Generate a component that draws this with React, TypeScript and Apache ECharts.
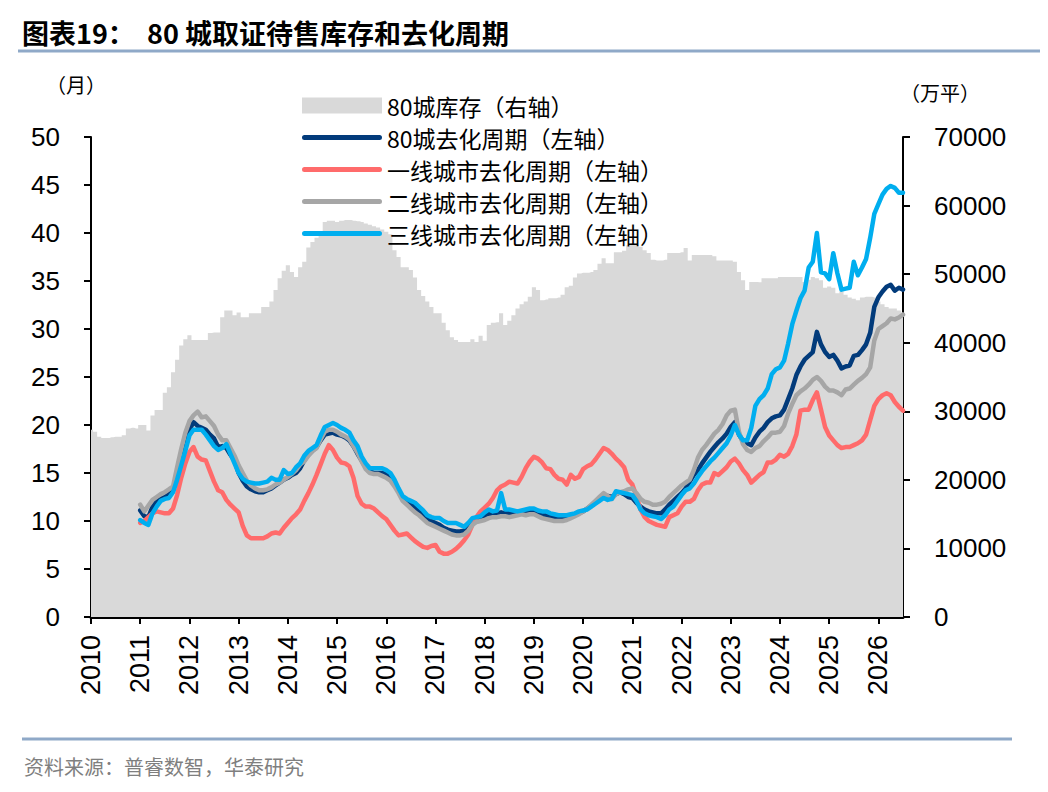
import React, { useEffect, useRef } from "react";
import * as echarts from "echarts";

// ---------- categories ----------
const years = [2010, 2011, 2012, 2013, 2014, 2015, 2016, 2017, 2018, 2019, 2020, 2021, 2022, 2023, 2024, 2025, 2026];
const monthsInLastYear = 7;
const months: string[] = [];
years.forEach((y, k) => {
  const n = k === years.length - 1 ? monthsInLastYear : 12;
  for (let m = 1; m <= n; m++) months.push(`${y}-${m < 10 ? "0" + m : m}`);
});

// ---------- series (monthly) ----------
// 80城库存（万平，右轴）, 2010-01 .. 2026-07
const inventory = [
  27300, 27000, 26300, 26100, 26100, 26200, 26300, 26300, 26500, 27500, 27600, 27500,
  28000, 28000, 27200, 29400, 30200, 30200, 32700, 33500, 35700, 37500, 39600, 40500,
  41100, 40400, 40400, 40400, 40400, 41400, 41500, 41500, 43700, 44700, 44700, 44000,
  44400, 43700, 43700, 44300, 44300, 44300, 45200, 45200, 46000, 47700, 49400, 50500,
  51300, 50300, 49600, 51000, 51800, 53900, 54700, 55300, 56000, 57600, 57800, 57800,
  57600, 57800, 57900, 57900, 57800, 57700, 57600, 57400, 57200, 57000, 56800, 56500,
  56200, 55800, 53500, 52500, 51000, 51000, 50600, 49500, 47700, 46800, 46000, 45200,
  44300, 44300, 42900, 41800, 40800, 40400, 40100, 40100, 40100, 40500, 40100, 41000,
  40300, 42600, 42900, 43000, 44300, 42600, 43200, 44000, 45000, 45600, 46000, 46700,
  48100, 47700, 46200, 46300, 46500, 46500, 46600, 47000, 48100, 48300, 49500, 50100,
  50200, 50200, 50300, 50600, 51500, 52300, 51600, 51600, 53200, 53200, 53400, 54200,
  54500, 54300, 54000, 53500, 53100, 52100, 52000, 52000, 52100, 53100, 53100, 53100,
  53200, 53800, 52000, 52800, 52800, 52800, 52800, 52800, 52600, 52000, 52000, 52000,
  52000, 51800, 50300, 49100, 47700, 48850, 48850, 48800, 49400, 49400, 49400, 49400,
  49600, 49600, 49600, 49600, 49600, 49600, 48850, 49200, 49600, 49400, 49100, 48000,
  48200, 48000, 47200, 47500, 47000, 46600, 46400, 46200, 46600, 46700, 46700, 46600,
  46000, 45600, 45200, 45000, 45000, 44700, 44400,
];

const pad2010 = [null, null, null, null, null, null, null, null, null, null, null, null];

// 80城去化周期（月，左轴）, 2011-01 .. 2026-07
const cycle80 = [
  11.1, 10.5, 10.4, 11.5, 12.0, 12.3, 12.5, 12.8, 13.2, 15.0, 16.5, 18.1,
  19.5, 20.3, 19.9, 19.7, 19.5, 19.0, 18.6, 17.7, 17.8, 17.6, 16.9, 16.3,
  15.0, 14.2, 13.6, 13.3, 13.1, 13.0, 13.0, 13.2, 13.4, 13.7, 14.0, 14.3,
  14.5, 14.8, 15.0, 15.5, 16.3, 16.9, 17.3, 17.7, 18.4, 19.0, 19.1, 19.2,
  19.0, 18.9, 18.7, 18.4, 17.8, 17.0, 16.3, 15.6, 15.2, 15.0, 15.0, 15.0,
  14.9, 14.6, 14.0, 13.2, 12.4, 12.1, 11.8, 11.4, 11.0, 10.6, 10.2, 10.0,
  9.8, 9.6, 9.3, 9.1, 9.0, 8.9, 8.9, 9.0, 9.3, 9.9, 10.2, 10.3,
  10.5, 10.7, 10.8, 10.8, 10.9, 10.8, 10.8, 10.9, 10.9, 11.0, 10.9, 11.0,
  11.0, 10.8, 10.7, 10.6, 10.5, 10.4, 10.4, 10.3, 10.4, 10.6, 10.7, 10.8,
  11.0, 11.3, 11.6, 11.9, 12.2, 12.5, 12.6, 12.5, 12.8, 13.0, 12.8, 12.5,
  12.4, 11.9, 11.5, 11.2, 11.0, 10.9, 10.8, 10.8, 11.2, 11.7, 12.1, 12.5,
  12.9, 13.4, 14.1, 14.8, 15.3, 16.0, 16.6, 17.2, 17.7, 18.2, 18.6, 19.1,
  19.8, 20.3, 19.0, 18.3, 18.1, 17.9, 18.7, 19.3, 19.7, 20.3, 20.7, 20.9,
  21.0, 21.6, 22.7, 23.8, 25.2, 26.1, 26.8, 27.2, 27.6, 29.7, 28.4, 27.6,
  27.1, 27.3, 26.7, 25.9, 26.1, 26.2, 27.2, 27.3, 27.8, 28.4, 29.6, 32.3,
  33.3, 33.9, 34.4, 34.6, 34.0, 34.3, 34.1,
];

// 一线城市去化周期
const cycleTier1 = [
  9.8, 10.0, 10.4, 10.8, 11.0, 10.9, 10.8, 10.8, 11.3, 12.7, 14.5, 16.0,
  17.2, 17.7, 16.7, 16.4, 16.3, 15.2, 14.1, 13.2, 13.0, 12.2, 11.7, 11.3,
  10.9, 9.5, 8.5, 8.2, 8.2, 8.2, 8.2, 8.4, 8.7, 8.8, 8.7, 9.3,
  9.8, 10.3, 10.7, 11.2, 12.1, 12.9, 13.8, 14.8, 15.9, 17.0, 17.9, 17.4,
  16.6, 16.1, 16.0, 15.7, 14.5, 12.6, 11.8, 11.5, 11.5, 11.3, 10.9, 10.5,
  10.2, 9.6, 9.0, 8.5, 8.6, 8.7, 8.3, 7.9, 7.6, 7.3, 7.2, 7.4,
  7.5, 6.8, 6.6, 6.6, 6.8, 7.1, 7.5, 8.0, 8.6, 9.6, 10.4, 11.0,
  11.4, 11.8, 12.4, 13.2, 13.6, 13.8, 14.1, 14.0, 13.9, 14.6, 15.5, 16.2,
  16.7, 16.5, 16.1, 15.5, 15.4, 14.8, 14.4, 14.3, 13.8, 14.8, 14.4, 14.6,
  15.4, 15.7, 15.9, 16.4, 17.0, 17.6, 17.4, 17.0, 16.5, 16.1, 15.6, 14.3,
  13.8, 12.6, 11.2, 10.4, 10.0, 9.8, 9.6, 9.5, 9.4, 10.4, 10.6, 10.8,
  11.5, 12.0, 12.0, 12.3, 13.2, 13.8, 14.0, 14.0, 15.0, 14.8, 15.2, 15.6,
  16.2, 16.5, 16.0, 15.3, 14.8, 14.0, 14.4, 14.8, 15.1, 16.1, 16.1, 16.4,
  16.9, 16.7, 17.0, 17.8, 19.0, 21.5, 21.6, 21.6, 22.6, 23.4, 21.6, 19.8,
  18.9, 18.4, 17.9, 17.6, 17.7, 17.7, 17.9, 18.1, 18.4, 19.0, 20.5, 22.0,
  22.7, 23.1, 23.3, 23.1, 22.4, 21.9, 21.5,
];

// 二线城市去化周期
const cycleTier2 = [
  11.7, 11.0, 11.6, 12.2, 12.5, 12.8, 13.0, 13.3, 13.6, 15.6, 17.5, 19.2,
  20.4, 21.0, 21.4, 20.8, 20.9, 20.4, 19.9, 19.0, 18.4, 18.4, 17.6, 16.8,
  15.8, 15.0, 14.2, 13.7, 13.4, 13.2, 13.2, 13.3, 13.5, 13.8, 14.0, 14.3,
  14.6, 14.9, 15.3, 15.9, 16.2, 16.8, 17.3, 17.6, 18.5, 19.3, 19.5, 19.5,
  19.3, 19.0, 18.8, 18.5, 17.8, 17.1, 16.2, 15.4, 15.0, 14.9, 14.9, 14.7,
  14.5, 14.2, 13.6, 12.9, 12.1, 11.7, 11.3, 10.9, 10.6, 10.2, 9.8, 9.6,
  9.4, 9.2, 9.0, 8.8, 8.6, 8.5, 8.5, 8.6, 9.0, 9.6, 9.9, 10.0,
  10.1, 10.3, 10.4, 10.4, 10.5, 10.5, 10.4, 10.5, 10.6, 10.7, 10.6, 10.7,
  10.7, 10.5, 10.3, 10.2, 10.1, 10.0, 10.0, 10.0, 10.1, 10.3, 10.5, 10.7,
  11.0, 11.3, 11.7, 12.1, 12.5, 12.9, 12.6, 12.3, 12.8, 13.0, 13.1, 13.3,
  13.4, 12.9, 12.3, 12.0, 11.9, 11.7, 11.7, 11.8, 12.0, 12.5, 12.9, 13.3,
  13.7, 14.0, 14.3, 15.3, 16.6, 17.4, 17.9, 18.5, 19.1, 19.5, 20.1, 21.0,
  21.5, 21.6, 19.3, 18.0, 17.4, 17.2, 17.6, 17.8, 18.3, 18.7, 19.2, 19.2,
  19.3, 19.9, 21.2, 22.2, 23.1, 23.5, 23.8, 24.2, 24.7, 25.0, 24.6, 24.0,
  23.6, 23.6, 23.4, 23.1, 23.7, 23.8, 24.2, 24.6, 24.9, 25.3, 26.0, 28.8,
  30.0, 30.3, 30.6, 31.1, 31.0, 31.2, 31.5,
];

// 三线城市去化周期
const cycleTier3 = [
  10.1, 9.8, 9.6, 10.8, 11.5, 12.1, 12.3, 12.4, 13.0, 14.3, 15.8, 17.3,
  18.9, 19.5, 19.5, 19.5, 19.0, 18.4, 17.8, 17.4, 17.6, 18.0, 17.0, 16.0,
  15.0, 14.4, 14.1, 14.0, 13.9, 13.9, 14.0, 14.1, 14.5, 14.3, 14.3, 15.3,
  14.9, 15.0, 15.6, 16.0, 16.8, 17.3, 17.6, 17.9, 18.9, 19.8, 20.0, 20.2,
  20.0, 19.7, 19.5, 19.2, 18.4, 17.8, 16.7, 16.0, 15.5, 15.5, 15.5, 15.5,
  15.3, 15.0, 14.3, 13.4, 12.6, 12.3, 12.1, 11.9, 11.5, 11.1, 10.6, 10.4,
  10.3, 10.3, 10.0, 9.8, 9.8, 9.8, 9.6, 9.4, 9.8, 10.3, 10.4, 10.5,
  10.9, 11.2, 11.0, 11.1, 12.9, 11.2, 11.2, 11.1, 11.0, 11.1, 11.2, 11.3,
  11.3, 11.1, 11.0, 11.0, 10.8, 10.7, 10.6, 10.6, 10.6, 10.7, 10.8, 11.0,
  11.1, 11.2, 11.5, 11.8, 12.1, 12.4, 12.2, 12.3, 13.1, 13.0, 12.9, 12.8,
  12.7, 12.1, 11.2, 10.8, 10.6, 10.5, 10.4, 10.2, 10.6, 11.2, 11.5, 12.1,
  12.7, 13.2, 13.4, 13.9, 14.6, 15.2, 15.7, 16.2, 16.6, 17.1, 17.6, 18.1,
  18.9, 20.0, 19.0, 18.4, 18.4, 19.7, 22.0, 22.7, 23.1, 23.8, 25.3, 25.8,
  26.0, 26.7, 28.5, 30.5, 31.9, 33.2, 34.0, 36.4, 37.0, 40.0, 35.9, 35.8,
  35.2, 37.9, 35.8, 34.1, 34.2, 34.3, 37.0, 35.6, 36.4, 37.3, 39.5, 42.0,
  43.0, 44.0, 44.6, 44.9, 44.7, 44.2, 44.2,
];

const leftTicks = { min: 0, max: 50, interval: 5 };
const rightTicks = { min: 0, max: 70000, interval: 10000 };

const NAMES = {
  inv: "80城库存（右轴）",
  c80: "80城去化周期（左轴）",
  t1: "一线城市去化周期（左轴）",
  t2: "二线城市去化周期（左轴）",
  t3: "三线城市去化周期（左轴）",
};

const COLORS = {
  inv: "#d9d9d9",
  c80: "#023b7b",
  t1: "#ff6b6b",
  t2: "#a6a6a6",
  t3: "#00aeef",
};

const NUM_FONT = "'Liberation Sans', Arial, 'Noto Sans CJK SC', sans-serif";
const CJK_FONT = "'Noto Sans CJK SC', 'Liberation Sans', sans-serif";
const LINE_ICON = "path://M2.5,0 L77.5,0 A2.5,2.5 0 0 1 77.5,5 L2.5,5 A2.5,2.5 0 0 1 2.5,0 Z";

function lineSeries(name: string, values: number[], color: string, z: number) {
  return {
    type: "line",
    name,
    yAxisIndex: 0,
    data: [...pad2010, ...values],
    symbol: "none",
    color,
    itemStyle: { color },
    lineStyle: { width: 4.5, color, cap: "round", join: "round" },
    z,
  };
}

export default function App() {
  const ref = useRef<HTMLDivElement>(null);

  useEffect(() => {
    if (!ref.current) return;
    const chart = echarts.init(ref.current, undefined, { renderer: "svg" });
    const yearOnly = (i: number) => i % 12 === 0;
    chart.setOption({
      animation: false,
      backgroundColor: "#ffffff",
      grid: { left: 91, right: 145, top: 137, bottom: 175, containLabel: false },
      legend: {
        orient: "vertical",
        left: 297,
        top: 89,
        itemWidth: 80,
        itemHeight: 16,
        itemGap: 9,
        selectedMode: false,
        textStyle: { fontSize: 23, lineHeight: 22, color: "#000", fontFamily: CJK_FONT },
        data: [
          { name: NAMES.inv, icon: "rect" },
          { name: NAMES.c80, icon: LINE_ICON },
          { name: NAMES.t1, icon: LINE_ICON },
          { name: NAMES.t2, icon: LINE_ICON },
          { name: NAMES.t3, icon: LINE_ICON },
        ],
      },
      xAxis: {
        type: "category",
        data: months,
        boundaryGap: false,
        axisLine: { show: true, lineStyle: { color: "#000", width: 3 } },
        axisTick: { show: true, interval: yearOnly, length: 7, lineStyle: { color: "#000", width: 2 } },
        axisLabel: {
          interval: yearOnly,
          formatter: (v: string) => v.slice(0, 4),
          rotate: 90,
          fontSize: 27,
          margin: 18,
          color: "#000",
          fontFamily: NUM_FONT,
        },
        splitLine: { show: false },
      },
      yAxis: [
        {
          type: "value",
          position: "left",
          ...leftTicks,
          axisLine: { show: true, lineStyle: { color: "#000", width: 2 } },
          axisTick: { show: true, length: 7, lineStyle: { color: "#000", width: 2 } },
          axisLabel: { fontSize: 26, margin: 31, color: "#000", fontFamily: NUM_FONT },
          splitLine: { show: false },
        },
        {
          type: "value",
          position: "right",
          ...rightTicks,
          axisLine: { show: true, lineStyle: { color: "#000", width: 2 } },
          axisTick: { show: true, length: 7, lineStyle: { color: "#000", width: 2 } },
          axisLabel: {
            fontSize: 26,
            margin: 31,
            color: "#000",
            fontFamily: NUM_FONT,
            formatter: (v: number) => String(v),
          },
          splitLine: { show: false },
        },
      ],
      series: [
        {
          type: "line",
          name: NAMES.inv,
          yAxisIndex: 1,
          data: inventory,
          step: "middle",
          symbol: "none",
          color: COLORS.inv,
          itemStyle: { color: COLORS.inv },
          lineStyle: { width: 0, color: COLORS.inv },
          areaStyle: { color: COLORS.inv, opacity: 1 },
          z: 1,
        },
        lineSeries(NAMES.c80, cycle80, COLORS.c80, 2),
        lineSeries(NAMES.t1, cycleTier1, COLORS.t1, 3),
        lineSeries(NAMES.t2, cycleTier2, COLORS.t2, 4),
        lineSeries(NAMES.t3, cycleTier3, COLORS.t3, 5),
      ],
      graphic: [
        {
          type: "text",
          x: 22,
          y: 32,
          style: {
            text: "图表19：  80 城取证待售库存和去化周期",
            fontSize: 27,
            fontWeight: "bold",
            fontFamily: CJK_FONT,
            fill: "#000",
            textVerticalAlign: "middle",
          },
        },
        {
          type: "line",
          shape: { x1: 18, y1: 51, x2: 1040, y2: 51 },
          style: { stroke: "#8fa9c8", lineWidth: 3 },
        },
        {
          type: "text",
          x: 46,
          y: 84,
          style: { text: "（月）", fontSize: 20, fontFamily: CJK_FONT, fill: "#000", textVerticalAlign: "middle" },
        },
        {
          type: "text",
          x: 900,
          y: 92,
          style: { text: "（万平）", fontSize: 20, fontFamily: CJK_FONT, fill: "#000", textVerticalAlign: "middle" },
        },
        {
          type: "line",
          shape: { x1: 22, y1: 739, x2: 1012, y2: 739 },
          style: { stroke: "#8fa9c8", lineWidth: 3 },
        },
        {
          type: "text",
          x: 24,
          y: 766,
          style: {
            text: "资料来源：普睿数智，华泰研究",
            fontSize: 20,
            fontFamily: CJK_FONT,
            fill: "#7f7f7f",
            textVerticalAlign: "middle",
          },
        },
      ],
    });
    return () => chart.dispose();
  }, []);

  return (
    <div
      ref={ref}
      style={{ position: "absolute", left: 0, top: 0, width: 1048, height: 792, background: "#fff" }}
    />
  );
}
